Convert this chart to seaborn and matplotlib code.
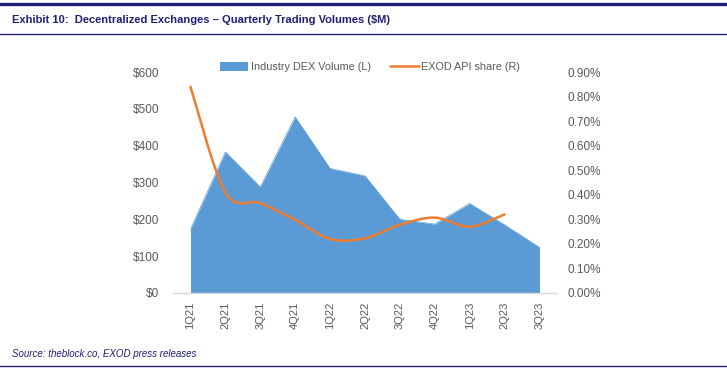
import numpy as np
import pandas as pd
import matplotlib.pyplot as plt
import seaborn as sns
from matplotlib.path import Path
from matplotlib.patches import PathPatch, Patch
from matplotlib.lines import Line2D
from matplotlib.ticker import FuncFormatter

quarters = ['1Q21', '2Q21', '3Q21', '4Q21', '1Q22', '2Q22',
            '3Q22', '4Q22', '1Q23', '2Q23', '3Q23']
dex_volume = [173, 383, 288, 478, 338, 318, 200, 187, 243, 185, 124]   # $M, left axis
exod_share = [0.84, 0.41, 0.366, 0.298, 0.22, 0.223, 0.278, 0.307, 0.27, 0.32]  # %, right axis

blue = '#5B9BD5'
orange = '#ED7D31'
navy = '#1F1F78'
grey = '#595959'

sns.set_theme(style='white')
plt.rcParams['font.family'] = ['Liberation Sans', 'DejaVu Sans']

df = pd.DataFrame({'quarter': quarters, 'volume': dex_volume})
df['x'] = np.arange(len(df))

fig = plt.figure(figsize=(7.27, 3.72), dpi=100)
ax = fig.add_axes([0.238, 0.2124, 0.528, 0.594])

# area for industry volume
ax.fill_between(df['x'], 0, df['volume'], color=blue, linewidth=0, zorder=1)
sns.lineplot(data=df, x='x', y='volume', ax=ax, color=blue, linewidth=0.5, zorder=1)
ax.set_xlim(-0.5, len(quarters) - 0.5)
ax.set_ylim(0, 600)
ax.set_yticks(range(0, 601, 100))
ax.yaxis.set_major_formatter(FuncFormatter(lambda v, p: f'${v:.0f}'))
ax.set_xticks(df['x'])
ax.set_xticklabels(quarters, rotation=90)
ax.set_xticks(np.arange(-0.5, len(quarters), 1), minor=True)
ax.tick_params(axis='x', which='major', length=0, pad=6, labelsize=8, colors=grey)
ax.tick_params(axis='x', which='minor', length=4, width=0.8, color='#D9D9D9', direction='out')
ax.tick_params(axis='y', length=0, labelsize=8.5, colors=grey, pad=10)
ax.set_xlabel('')
ax.set_ylabel('')
for s in ['left', 'right', 'top']:
    ax.spines[s].set_visible(False)
ax.spines['bottom'].set_color('#D9D9D9')
ax.spines['bottom'].set_linewidth(1)

# right axis: EXOD share, smoothed like an Excel smooth line (bezier through the points)
ax2 = ax.twinx()
ax2.set_ylim(0, 0.9)
ax2.set_yticks(np.arange(0, 0.91, 0.1))
ax2.yaxis.set_major_formatter(FuncFormatter(lambda v, p: f'{v:.2f}%'))
ax2.tick_params(axis='y', length=0, labelsize=8.5, colors=grey, pad=8)
for s in ['left', 'right', 'top', 'bottom']:
    ax2.spines[s].set_visible(False)

xs = np.arange(len(exod_share), dtype=float)
ys = np.array(exod_share)
verts = [(xs[0], ys[0])]
codes = [Path.MOVETO]
n = len(xs)
for i in range(n - 1):
    p0 = (xs[max(i - 1, 0)], ys[max(i - 1, 0)])
    p1 = (xs[i], ys[i])
    p2 = (xs[i + 1], ys[i + 1])
    p3 = (xs[min(i + 2, n - 1)], ys[min(i + 2, n - 1)])
    c1 = (p1[0] + (p2[0] - p0[0]) / 6, p1[1] + (p2[1] - p0[1]) / 6)
    c2 = (p2[0] - (p3[0] - p1[0]) / 6, p2[1] - (p3[1] - p1[1]) / 6)
    verts += [c1, c2, p2]
    codes += [Path.CURVE4] * 3
ax2.add_patch(PathPatch(Path(verts, codes), facecolor='none', edgecolor=orange,
                        linewidth=1.8, capstyle='round', zorder=3))

# legend across the top
handles = [Patch(facecolor=blue, edgecolor='none'),
           Line2D([0], [0], color=orange, linewidth=1.8)]
fig.legend(handles, ['Industry DEX Volume (L)', 'EXOD API share (R)'],
           loc='center', bbox_to_anchor=(0.509, 0.82), ncol=2, frameon=False,
           fontsize=7.8, handlelength=2.6, handleheight=0.9, columnspacing=1.8,
           handletextpad=0.25, labelcolor=grey)

# exhibit header and footer
fig.add_artist(Line2D([0.0, 1.0], [0.988, 0.988], color=navy, linewidth=2.4))
fig.text(0.016, 0.946, 'Exhibit 10:  Decentralized Exchanges \u2013 Quarterly Trading Volumes ($M)',
         fontsize=8, fontweight='bold', color=navy, va='center')
fig.add_artist(Line2D([0.0, 1.0], [0.908, 0.908], color=navy, linewidth=1.0))
fig.text(0.016, 0.048, 'Source: theblock.co, EXOD press releases',
         fontsize=7, style='italic', color=navy, va='center')
fig.add_artist(Line2D([0.0, 1.0], [0.016, 0.016], color=navy, linewidth=1.0))

fig.savefig('out.png', dpi=100)
